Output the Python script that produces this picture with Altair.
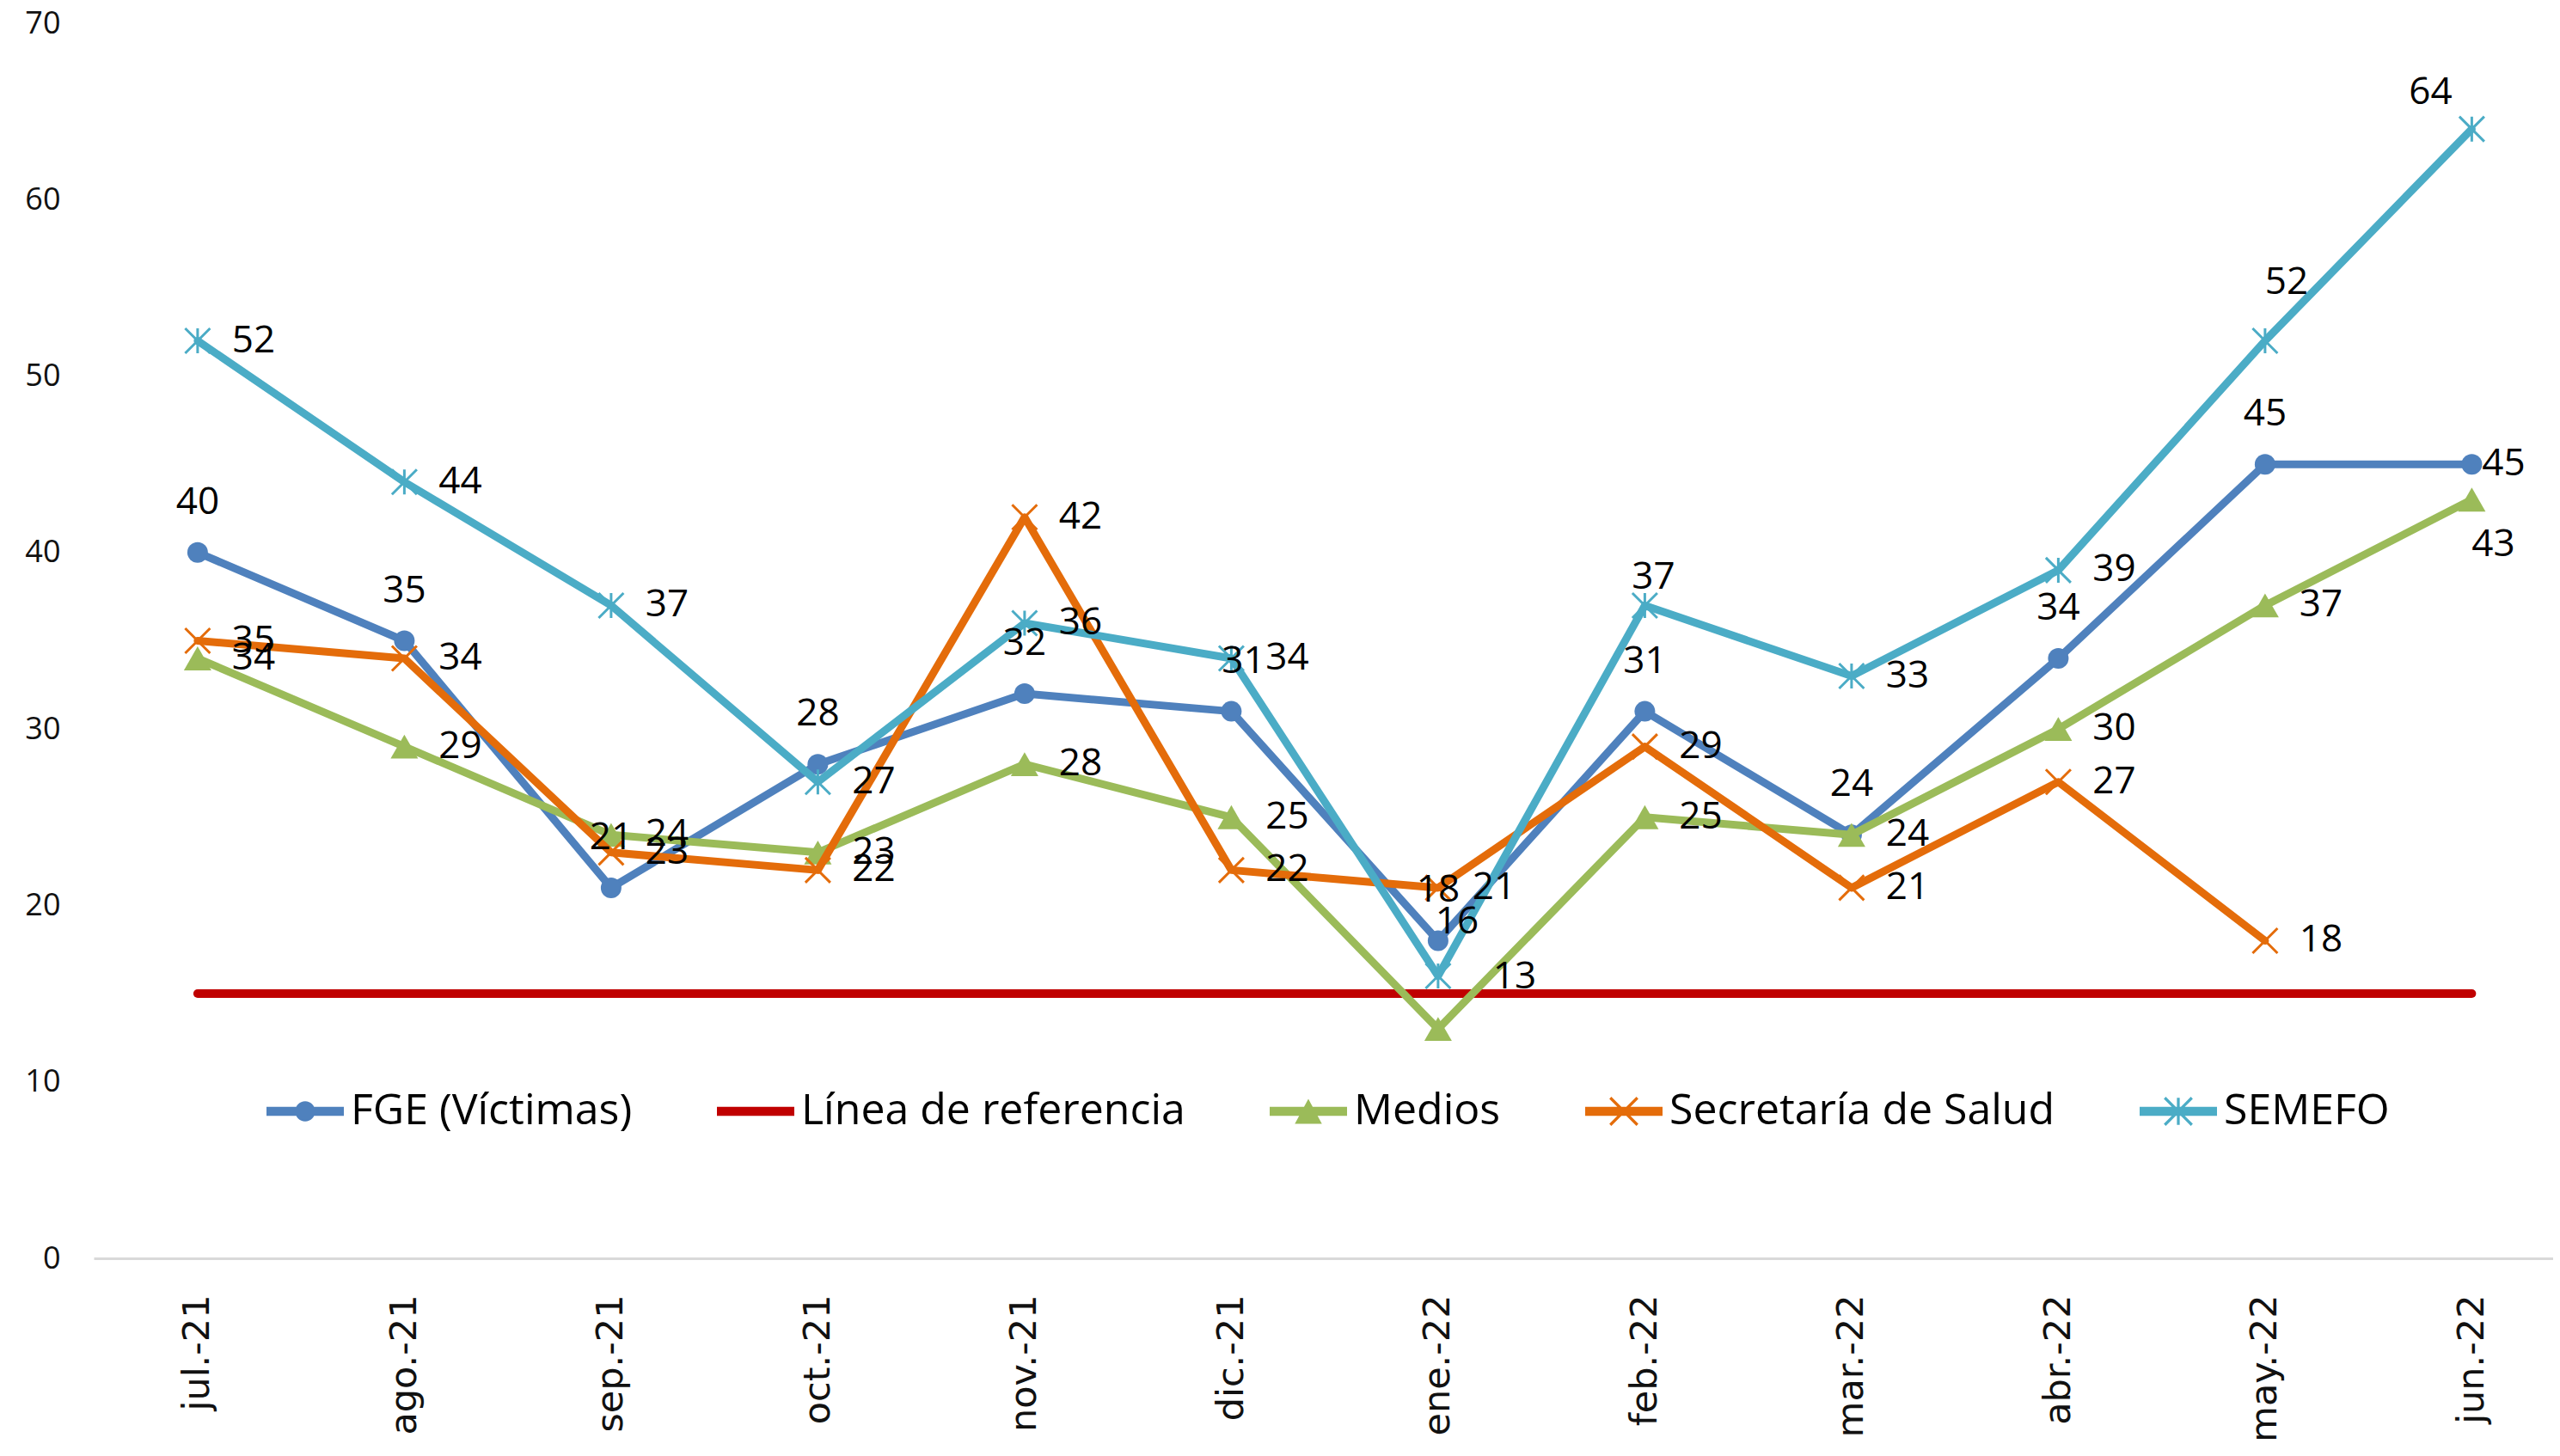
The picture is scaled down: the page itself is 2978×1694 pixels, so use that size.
import math
import altair as alt
import pandas as pd

# ---------------- data ----------------
months = ["jul.-21", "ago.-21", "sep.-21", "oct.-21", "nov.-21", "dic.-21",
          "ene.-22", "feb.-22", "mar.-22", "abr.-22", "may.-22", "jun.-22"]
series_names = ["FGE (Víctimas)", "Línea de referencia", "Medios",
                "Secretaría de Salud", "SEMEFO"]

fge_values = [40, 35, 21, 28, 32, 31, 18, 31, 24, 34, 45, 45]
ref_values = [15, 15, 15, 15, 15, 15, 15, 15, 15, 15, 15, 15]
medios_values = [34, 29, 24, 23, 28, 25, 13, 25, 24, 30, 37, 43]
salud_values = [35, 34, 23, 22, 42, 22, 21, 29, 21, 27, 18, None]
semefo_values = [52, 44, 37, 27, 36, 34, 16, 37, 33, 39, 52, 64]

# data-label placement codes (Excel placements)
fge_pos = ["a", "a", "a", "a", "a", "a2", "a", "a", "a", "a", "a", "rc"]
ref_pos = ["none"] * 12
medios_pos = ["r", "r", "r", "r", "r", "r", "ar_far", "r", "r", "r", "r", "b"]
salud_pos = ["r", "r", "r", "r", "r", "r", "r", "r", "r", "r", "r", "r"]
semefo_pos = ["r", "r", "r", "r", "r", "r", "ar", "a_close", "r", "r", "a_high", "al"]

colors = ["#4F81BD", "#C00000", "#9BBB59", "#E46C0A", "#4BACC6"]

all_values = [fge_values, ref_values, medios_values, salud_values, semefo_values]
all_pos = [fge_pos, ref_pos, medios_pos, salud_pos, semefo_pos]

rows = []
for name, vals, poss in zip(series_names, all_values, all_pos):
    for m, v, p in zip(months, vals, poss):
        if v is None:
            continue
        rows.append({"series": name, "month": m, "value": v, "pos": p})
df = pd.DataFrame(rows)

# ---------------- styles ----------------
LABEL_OFFSETS = {
    "a": (0, -58),
    "a2": (14, -58),
    "r": (65, 0),
    "rc": (37, 0),
    "b": (25, 53),
    "ar": (22, -63),
    "ar_far": (89, -60),
    "a_close": (10, -32),
    "a_high": (25, -68),
    "al": (-48, -42),
}


def poly(points):
    n = len(points)
    area = sum(points[i][0] * points[(i + 1) % n][1] - points[(i + 1) % n][0] * points[i][1]
               for i in range(n))
    if area < 0:
        points = points[::-1]
    return "M" + "L".join(f"{x:.4f},{y:.4f}" for x, y in points) + "Z"


def bar(h):
    return poly([(-1, -h), (1, -h), (1, h), (-1, h)])


def arm(x1, y1, x2, y2, w):
    dx, dy = x2 - x1, y2 - y1
    L = math.hypot(dx, dy)
    nx, ny = -dy / L * w, dx / L * w
    return poly([(x1 + nx, y1 + ny), (x2 + nx, y2 + ny), (x2 - nx, y2 - ny), (x1 - nx, y1 - ny)])


def circle(r):
    return f"M{-r},0A{r},{r},0,1,1,{r},0A{r},{r},0,1,1,{-r},0Z"


BH = 0.115
XA = 0.35
XW = 0.036
legend_paths = [
    bar(BH) + circle(0.26),
    bar(BH),
    bar(BH) + poly([(0, -0.32), (0.35, 0.32), (-0.35, 0.32)]),
    bar(BH) + arm(-XA, -XA, XA, XA, XW) + arm(-XA, XA, XA, -XA, XW),
    bar(BH) + arm(-XA, -XA, XA, XA, XW) + arm(-XA, XA, XA, -XA, XW) + arm(0, -XA, 0, XA, XW),
]

marker_styles = [
    dict(shape="circle", filled=True, size=576),
    None,
    dict(shape="M0,-0.87L1,0.87L-1,0.87Z", filled=True, size=1024),
    dict(shape="M-1,-1L1,1M-1,1L1,-1", filled=False, size=841, strokeWidth=3),
    dict(shape="M-1,-1L1,1M-1,1L1,-1M0,-1L0,1", filled=False, size=841, strokeWidth=3),
]

PLOT_W = 2861
PLOT_H = 1437
PAD = 0.448
ALIGN = 0.561

x_enc = alt.X(
    "month:N", sort=months, title=None,
    scale=alt.Scale(type="point", domain=months, padding=PAD, align=ALIGN),
    axis=alt.Axis(domainColor="#D9D9D9", domainWidth=3, ticks=False, grid=False,
                  labelAngle=270, labelFont="DejaVu Sans", labelFontSize=43,
                  labelColor="#111111", labelPadding=42, labelOverlap=False),
)
y_enc = alt.Y(
    "value:Q", title=None,
    scale=alt.Scale(domain=[0, 70], nice=False, zero=True),
    axis=alt.Axis(values=list(range(0, 71, 10)), domain=False, ticks=False, grid=False,
                  labelFont="Open Sans", labelFontSize=36, labelColor="#111111",
                  labelPadding=39),
)

legend_def = alt.Legend(
    title=None, orient="none", legendX=201, legendY=1221, direction="horizontal",
    columns=5, symbolSize=8100, symbolStrokeWidth=0, symbolOpacity=1,
    labelFont="Open Sans", labelFontSize=50, labelColor="#000000", labelOffset=8,
    columnPadding=98, labelLimit=1000, padding=0,
)

legend_layer = alt.Chart(pd.DataFrame({"series": series_names})).transform_filter(
    "false"
).mark_point(filled=True, opacity=1, size=8100).encode(
    color=alt.Color("series:N", scale=alt.Scale(domain=series_names, range=colors),
                    legend=legend_def),
    shape=alt.Shape("series:N", scale=alt.Scale(domain=series_names, range=legend_paths),
                    legend=legend_def),
)

base = alt.Chart(df)
layers = [legend_layer]
for name, color, mstyle in zip(series_names, colors, marker_styles):
    sub = base.transform_filter(alt.datum.series == name)
    layers.append(
        sub.mark_line(color=color, strokeWidth=9 if mstyle else 10,
                      strokeJoin="round", strokeCap="round").encode(x=x_enc, y=y_enc)
    )
    if mstyle:
        layers.append(
            sub.mark_point(color=color, opacity=1, **mstyle).encode(x=x_enc, y=y_enc)
        )

for code, (dx, dy) in LABEL_OFFSETS.items():
    layers.append(
        base.transform_filter(alt.datum.pos == code).mark_text(
            dx=dx, dy=dy, font="Open Sans", fontSize=44, color="#000000",
            align="center", baseline="middle",
        ).encode(x=x_enc, y=y_enc, text=alt.Text("value:Q"))
    )

chart = alt.layer(*layers).properties(
    width=PLOT_W, height=PLOT_H,
    padding={"left": 101, "top": 19, "right": 0, "bottom": 218},
    autosize=alt.AutoSizeParams(type="none"),
).configure_view(stroke=None)

chart.save("out.html", embed_options={"renderer": "svg", "actions": False})
